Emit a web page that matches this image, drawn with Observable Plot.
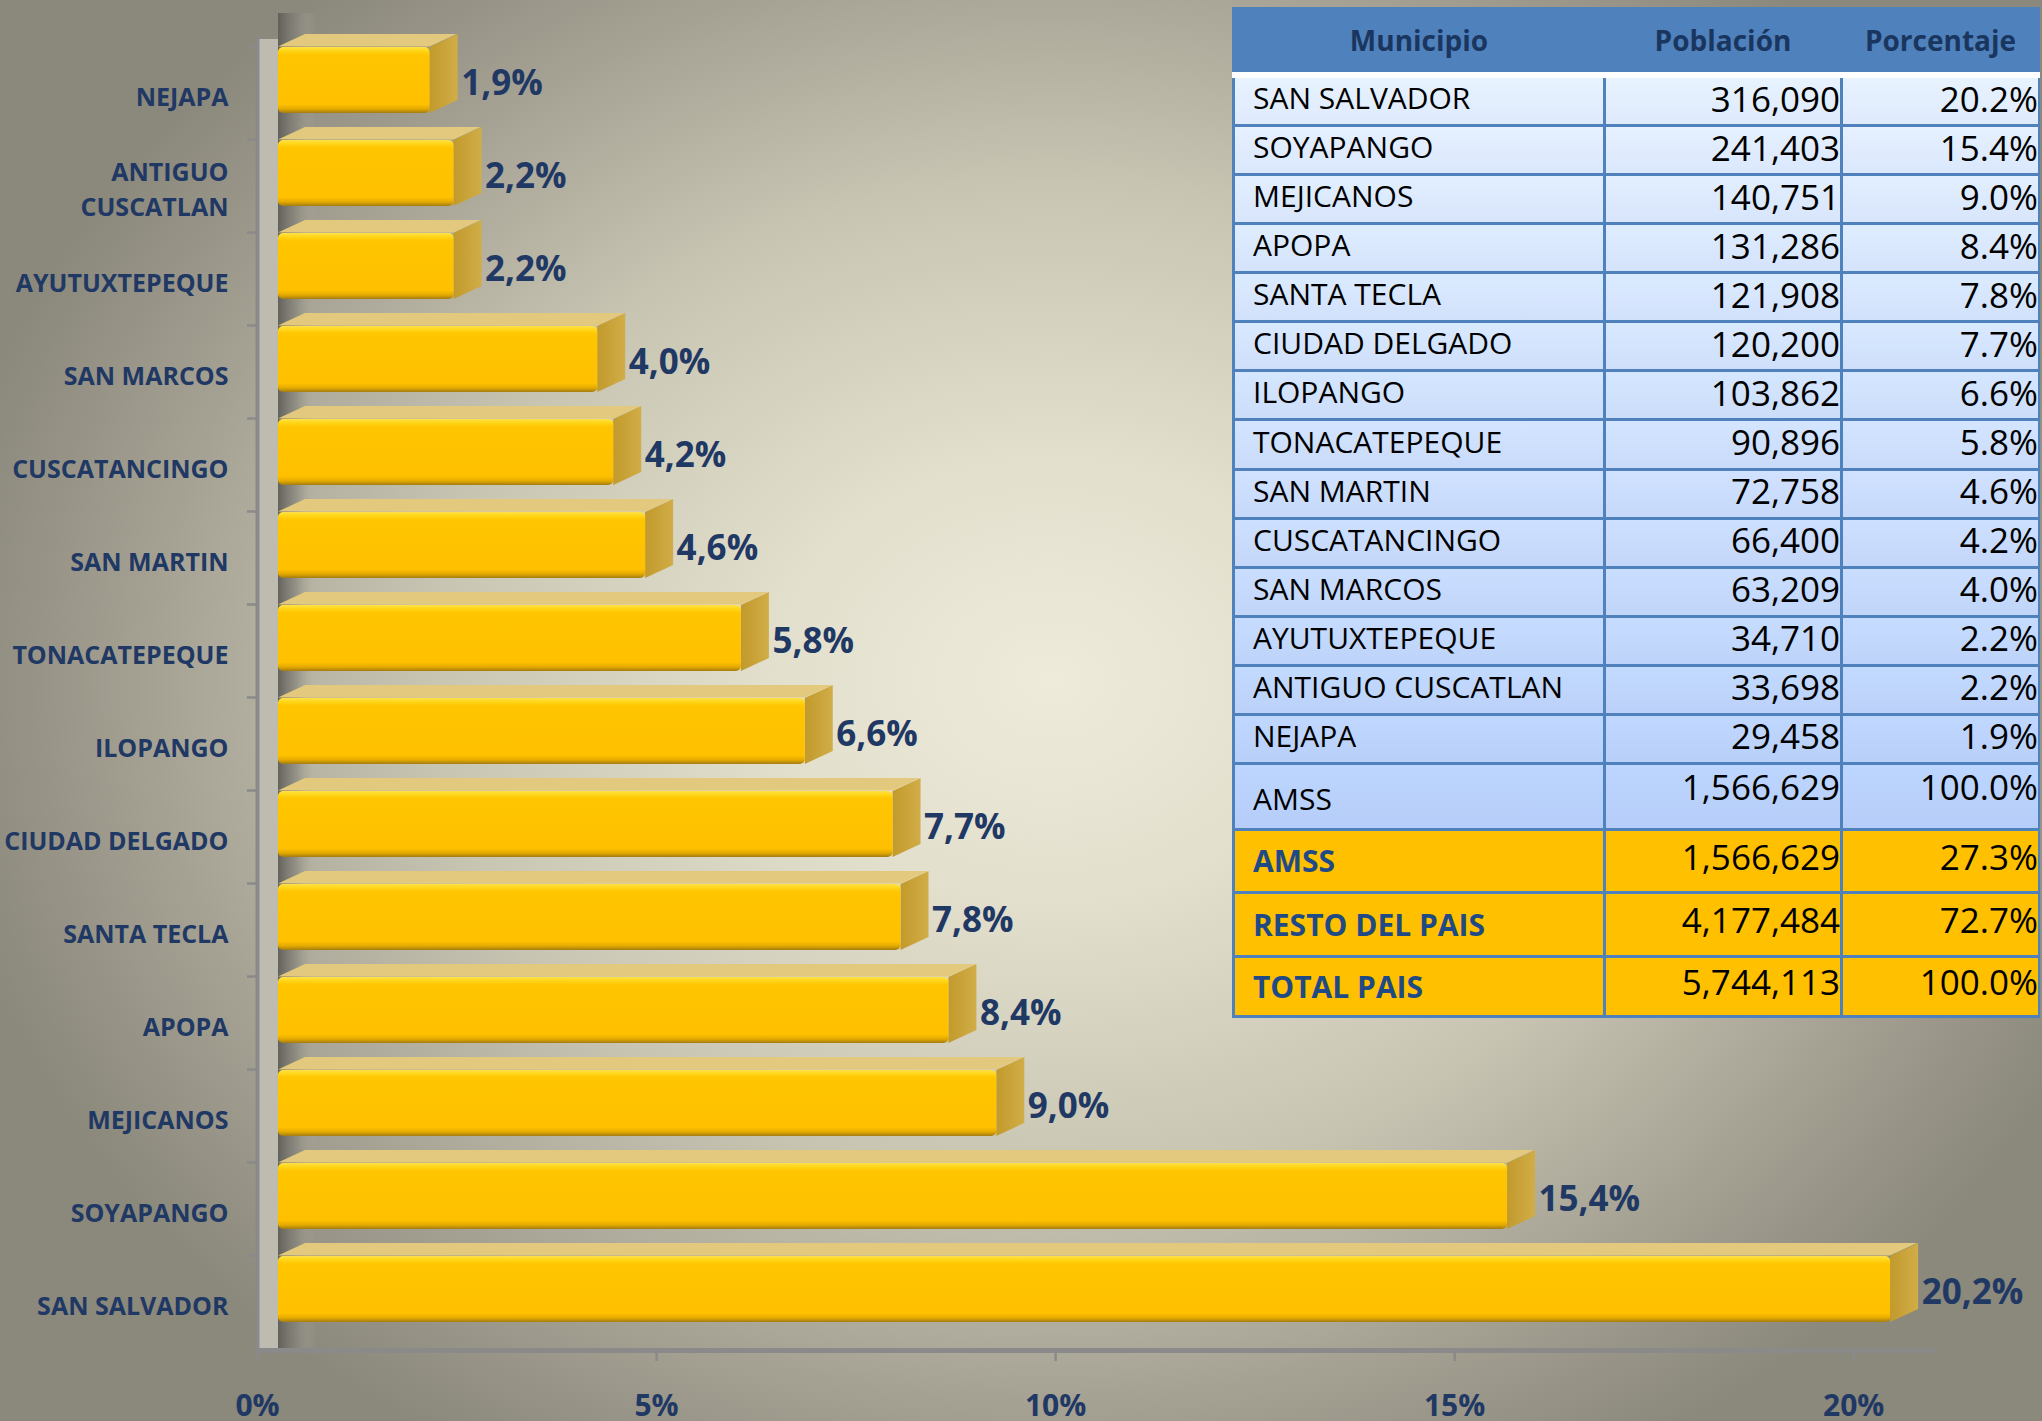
<!DOCTYPE html>
<html>
<head>
<meta charset="utf-8">
<script src="https://cdn.jsdelivr.net/npm/d3@7"></script>
<script src="https://cdn.jsdelivr.net/npm/@observablehq/plot@0.6"></script>
<style>
html, body { margin:0; padding:0; }
body { width:2042px; height:1421px; overflow:hidden; position:relative;
  background: radial-gradient(ellipse 1120px 900px at 1050px 680px, #efebdb 0%, #e3dfcd 25%, #c9c5b3 55%, #a5a294 80%, #8b887c 100%);
  font-family: "Open Sans", sans-serif; }
#chart { position:absolute; left:0; top:0; }
#tbl { position:absolute; left:1232px; top:7px; width:808px; height:1011px; background:#4F81BD; }
.cell { position:absolute; box-sizing:border-box; display:flex; align-items:center; white-space:nowrap; line-height:1; }
</style>
</head>
<body>
<div id="chart"></div>
<div id="tbl"></div>
<script>
// ---------- data ----------
const municipios = ["SAN SALVADOR","SOYAPANGO","MEJICANOS","APOPA","SANTA TECLA","CIUDAD DELGADO","ILOPANGO","TONACATEPEQUE","SAN MARTIN","CUSCATANCINGO","SAN MARCOS","AYUTUXTEPEQUE","ANTIGUO CUSCATLAN","NEJAPA"];
const poblacion = [316090,241403,140751,131286,121908,120200,103862,90896,72758,66400,63209,34710,33698,29458];
const porcentaje = [20.2,15.4,9.0,8.4,7.8,7.7,6.6,5.8,4.6,4.2,4.0,2.2,2.2,1.9];
const encabezados = ["Municipio","Población","Porcentaje"];
const amssEtiqueta = "AMSS";
const amssPoblacion = 1566629;
const amssPorcentaje = 100.0;
const resumenEtiquetas = ["AMSS","RESTO DEL PAIS","TOTAL PAIS"];
const resumenPoblacion = [1566629,4177484,5744113];
const resumenPorcentaje = [27.3,72.7,100.0];
const xTicks = [0,5,10,15,20];

// ---------- chart ----------
const W = 2042, H = 1421;
const navy = "#1f3864";
const rows = municipios.map((m, i) => ({m, v: porcentaje[i]}));
const yOrder = municipios.slice().reverse();
const DX = 21, DEPTH_X = 28, DEPTH_Y = 13, PAD = 0.29;
const yRange = [42.75, 1326.25];
const bw = (yRange[1] - yRange[0]) / (yOrder.length - PAD) * (1 - PAD);
const comma = v => v.toFixed(1).replace(".", ",") + "%";
const twoLine = d => d === "ANTIGUO CUSCATLAN" ? "ANTIGUO\nCUSCATLAN" : d;

const svg = Plot.plot({
  width: W, height: H,
  marginLeft: 257, marginRight: 109, marginTop: 39, marginBottom: 71,
  style: {background: "transparent", overflow: "visible", fontFamily: "'Open Sans', sans-serif"},
  x: {domain: [0, 21], label: null},
  y: {domain: yOrder, range: yRange, paddingInner: PAD, paddingOuter: 0, label: null},
  marks: [
    Plot.rect([0], {x1: 0, x2: 0, insetRight: -21, fill: "#bebcb0"}),
    Plot.rect([0], {x1: 0, x2: 0, insetRight: -38, insetTop: -26, dx: 21, fill: "url(#wallShade)"}),
    Plot.frame({anchor: "left", stroke: "#8a8a8a", strokeWidth: 4}),
    Plot.frame({anchor: "bottom", stroke: "#8a8a8a", strokeWidth: 5}),
    Plot.axisY({tickSize: 10, tickFormat: () => "", dy: -34, stroke: "#8a8a8a", strokeWidth: 2.5, label: null}),
    Plot.axisY({tickSize: 0, tickPadding: 29, dy: 14, tickFormat: twoLine, fontSize: 25, fontWeight: "bold", fill: navy, lineHeight: 1.4, label: null}),
    Plot.axisX({ticks: xTicks, tickSize: 11, tickFormat: () => "", stroke: "#8a8a8a", strokeWidth: 2.5, label: null}),
    Plot.axisX({ticks: xTicks, tickSize: 0, tickPadding: 44, tickFormat: d => d + "%", fontSize: 30, fontWeight: "bold", fill: navy, label: null}),
    Plot.barX(rows, {x1: 0, x2: "v", y: "m", dx: DX, dy: -DEPTH_Y, insetBottom: bw - DEPTH_Y, fill: "#e2c97d", ariaDescription: "top-face"}),
    Plot.barX(rows, {x1: "v", x2: "v", y: "m", dx: DX, insetRight: -DEPTH_X, fill: "url(#barSide)", ariaDescription: "side-face"}),
    Plot.barX(rows, {x1: 0, x2: "v", y: "m", dx: DX, fill: "url(#barFront)", rx: 5, ariaDescription: "front-face"}),
    Plot.text(rows, {x: "v", y: "m", text: d => comma(d.v), dx: 52, dy: 3, textAnchor: "start", fontSize: 35, fontWeight: "bold", fill: navy})
  ]
});

const s = d3.select(svg);
const defs = s.insert("defs", ":first-child");
function grad(id, vertical, stops) {
  const g = defs.append("linearGradient").attr("id", id).attr("x1", 0).attr("y1", 0)
    .attr("x2", vertical ? 0 : 1).attr("y2", vertical ? 1 : 0);
  stops.forEach(([o, c, a]) => g.append("stop").attr("offset", o).attr("stop-color", c).attr("stop-opacity", a == null ? 1 : a));
}
grad("barFront", true, [[0, "#ffe04a"], [0.05, "#ffd81c"], [0.12, "#ffc500"], [0.87, "#ffc000"], [0.94, "#e3a900"], [1, "#a37b12"]]);
grad("barSide", false, [[0, "#c29a2c"], [1, "#d1ad48"]]);
grad("wallShade", false, [[0, "#5f5e58", 0.95], [0.5, "#85837a", 0.65], [1, "#b5b2a4", 0]]);

const skewXdeg = -Math.atan(DEPTH_X / DEPTH_Y) * 180 / Math.PI;
const skewYdeg = -Math.atan(DEPTH_Y / DEPTH_X) * 180 / Math.PI;
s.selectAll('g[aria-description="top-face"] rect').each(function() {
  const r = d3.select(this), y = +r.attr("y"), h = +r.attr("height"), yb = y + h;
  r.attr("transform", `${r.attr("transform") || ""} translate(0,${yb}) skewX(${skewXdeg}) translate(0,${-yb})`);
});
s.selectAll('g[aria-description="side-face"] rect').each(function() {
  const r = d3.select(this), x = +r.attr("x");
  r.attr("transform", `${r.attr("transform") || ""} translate(${x},0) skewY(${skewYdeg}) translate(${-x},0)`);
});
document.getElementById("chart").appendChild(svg);

// ---------- table ----------
const tbl = d3.select("#tbl");
const colL = [3, 374, 611], colR = [371, 608, 806];
const fmtN = d3.format(",");
const fmtP = v => v.toFixed(1) + "%";
function cell(x0, x1, y0, y1, text, style) {
  const d = tbl.append("div").attr("class", "cell")
    .style("left", x0 + "px").style("top", y0 + "px")
    .style("width", (x1 - x0) + "px").style("height", (y1 - y0) + "px");
  Object.entries(style).forEach(([k, v]) => d.style(k, v));
  d.text(text);
  return d;
}
// header
encabezados.forEach((h, c) => cell(colL[c], colR[c], 0, 65, h,
  {"justify-content": "center", "font-size": "28px", "font-weight": "700", color: "#1a365f", background: "#4F81BD"}));
cell(0, 808, 65, 71, "", {background: "#ffffff"});
// body rows
const step = 49.07;
const bodyTop = 71;
const shade = d3.interpolateRgb("#dee9fc", "#b5cdf8");
const nBody = municipios.length + 1;
const bodyRows = municipios.map((m, i) => [m, poblacion[i], porcentaje[i]]).concat([[amssEtiqueta, amssPoblacion, amssPorcentaje]]);
bodyRows.forEach(([m, p, q], i) => {
  const tall = i === municipios.length;
  const y0 = bodyTop + i * step;
  const y1 = tall ? 821 : bodyTop + (i + 1) * step - 3;
  const bg = `linear-gradient(to bottom, ${d3.rgb(shade(i / (nBody - 1))).brighter(0.12)}, ${shade(i / (nBody - 1))})`;
  cell(colL[0], colR[0], y0, y1, m, {"font-size": "30px", color: "#000", background: bg, "padding-left": "18px", "padding-top": tall ? "6px" : "0", "padding-bottom": tall ? "0" : "6px"});
  cell(colL[1], colR[1], y0, y1, fmtN(p), {"font-size": "35px", color: "#000", background: bg, "justify-content": "flex-end", "padding-bottom": tall ? "20px" : "6px"});
  cell(colL[2], colR[2], y0, y1, fmtP(q), {"font-size": "35px", color: "#000", background: bg, "justify-content": "flex-end", "padding-bottom": tall ? "20px" : "6px"});
});
// summary rows
const sumTop = [824, 887, 951], sumBot = [884, 948, 1008];
resumenEtiquetas.forEach((m, i) => {
  cell(colL[0], colR[0], sumTop[i], sumBot[i], m, {"font-size": "30px", "font-weight": "700", color: "#1f4a85", background: "#FFC000", "padding-left": "18px"});
  cell(colL[1], colR[1], sumTop[i], sumBot[i], fmtN(resumenPoblacion[i]), {"font-size": "35px", color: "#000", background: "#FFC000", "justify-content": "flex-end", "padding-bottom": "10px"});
  cell(colL[2], colR[2], sumTop[i], sumBot[i], fmtP(resumenPorcentaje[i]), {"font-size": "35px", color: "#000", background: "#FFC000", "justify-content": "flex-end", "padding-bottom": "10px"});
});
</script>
</body>
</html>
